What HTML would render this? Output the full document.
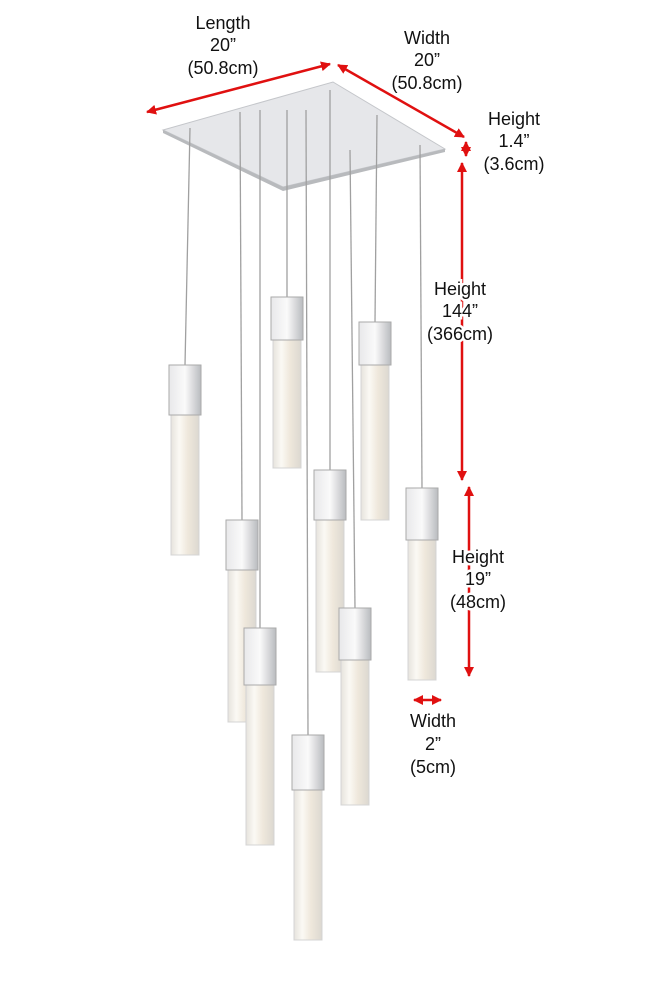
<!DOCTYPE html>
<html><head><style>
body{margin:0;background:#fff;}
svg text{font-family:"Liberation Sans",sans-serif;font-size:18px;fill:#111;text-anchor:middle;paint-order:stroke;stroke:#fff;stroke-width:5px;}
</style></head><body>
<svg width="650" height="1000" viewBox="0 0 650 1000">
<defs>
<linearGradient id="tube" x1="0" x2="1"><stop offset="0" stop-color="#e6e3dd"/><stop offset="0.3" stop-color="#fbf9f4"/><stop offset="0.6" stop-color="#efe8dc"/><stop offset="1" stop-color="#dcd8d0"/></linearGradient>
<linearGradient id="hous" x1="0" x2="1"><stop offset="0" stop-color="#e8e8ea"/><stop offset="0.5" stop-color="#fafafa"/><stop offset="1" stop-color="#b9bbbf"/></linearGradient>
<marker id="ar" viewBox="0 0 10 10" refX="9" refY="5" markerWidth="4" markerHeight="4" orient="auto-start-reverse"><path d="M0 0L10 5L0 10z" fill="#e01010"/></marker>
</defs>
<polygon points="163,130 333,82 445,149 283,187" fill="#e6e7ea" stroke="#c4c6ca"/>
<polygon points="163,130 283,187 445,149 445,152 283,191 163,133" fill="#b8babd"/>
<g stroke="#a0a0a0" stroke-width="1.3" fill="none">
<line x1="190" y1="128" x2="185" y2="365"/>
<line x1="287" y1="110" x2="287" y2="297"/>
<line x1="377" y1="115" x2="375" y2="322"/>
<line x1="330" y1="90" x2="330" y2="470"/>
<line x1="420" y1="145" x2="422" y2="488"/>
<line x1="240" y1="112" x2="242" y2="520"/>
<line x1="260" y1="110" x2="260" y2="628"/>
<line x1="350" y1="150" x2="355" y2="608"/>
<line x1="306" y1="110" x2="308" y2="735"/>
</g>
<g>
<g><rect x="171" y="415" width="28" height="140" fill="url(#tube)" stroke="#d4d4d4"/><rect x="169" y="365" width="32" height="50" fill="url(#hous)" stroke="#aaa"/></g>
<g><rect x="273" y="340" width="28" height="128" fill="url(#tube)" stroke="#d4d4d4"/><rect x="271" y="297" width="32" height="43" fill="url(#hous)" stroke="#aaa"/></g>
<g><rect x="361" y="365" width="28" height="155" fill="url(#tube)" stroke="#d4d4d4"/><rect x="359" y="322" width="32" height="43" fill="url(#hous)" stroke="#aaa"/></g>
<g><rect x="316" y="520" width="28" height="152" fill="url(#tube)" stroke="#d4d4d4"/><rect x="314" y="470" width="32" height="50" fill="url(#hous)" stroke="#aaa"/></g>
<g><rect x="408" y="540" width="28" height="140" fill="url(#tube)" stroke="#d4d4d4"/><rect x="406" y="488" width="32" height="52" fill="url(#hous)" stroke="#aaa"/></g>
<g><rect x="228" y="570" width="28" height="152" fill="url(#tube)" stroke="#d4d4d4"/><rect x="226" y="520" width="32" height="50" fill="url(#hous)" stroke="#aaa"/></g>
<g><rect x="341" y="660" width="28" height="145" fill="url(#tube)" stroke="#d4d4d4"/><rect x="339" y="608" width="32" height="52" fill="url(#hous)" stroke="#aaa"/></g>
<g><rect x="246" y="685" width="28" height="160" fill="url(#tube)" stroke="#d4d4d4"/><rect x="244" y="628" width="32" height="57" fill="url(#hous)" stroke="#aaa"/></g>
<g><rect x="294" y="790" width="28" height="150" fill="url(#tube)" stroke="#d4d4d4"/><rect x="292" y="735" width="32" height="55" fill="url(#hous)" stroke="#aaa"/></g>
</g>
<g stroke="#e01010" stroke-width="2.5" fill="none">
<line x1="147" y1="112" x2="330" y2="64" marker-start="url(#ar)" marker-end="url(#ar)"/>
<line x1="338" y1="65" x2="464" y2="137" marker-start="url(#ar)" marker-end="url(#ar)"/>
<line x1="466" y1="142" x2="466" y2="156" marker-start="url(#ar)" marker-end="url(#ar)"/>
<line x1="462" y1="163" x2="462" y2="480" marker-start="url(#ar)" marker-end="url(#ar)"/>
<line x1="469" y1="487" x2="469" y2="676" marker-start="url(#ar)" marker-end="url(#ar)"/>
<line x1="414" y1="700" x2="441" y2="700" marker-start="url(#ar)" marker-end="url(#ar)"/>
</g>
<text x="223" y="29">Length</text><text x="223" y="51">20”</text><text x="223" y="74">(50.8cm)</text>
<text x="427" y="44">Width</text><text x="427" y="66">20”</text><text x="427" y="89">(50.8cm)</text>
<text x="514" y="125">Height</text><text x="514" y="147">1.4”</text><text x="514" y="170">(3.6cm)</text>
<text x="460" y="295">Height</text><text x="460" y="317">144”</text><text x="460" y="340">(366cm)</text>
<text x="478" y="563">Height</text><text x="478" y="585">19”</text><text x="478" y="608">(48cm)</text>
<text x="433" y="727">Width</text><text x="433" y="750">2”</text><text x="433" y="773">(5cm)</text>
</svg>
</body></html>
